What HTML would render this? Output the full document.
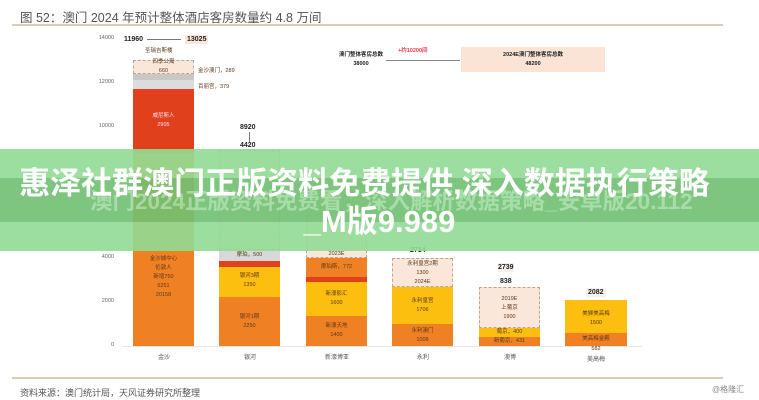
<!DOCTYPE html>
<html><head><meta charset="utf-8"><style>
*{margin:0;padding:0;box-sizing:border-box}
body{width:759px;height:400px;background:#fff;position:relative;overflow:hidden;font-family:"Liberation Sans","Noto Sans CJK SC",sans-serif;color:#444}
.a{position:absolute}
.t{position:absolute;font-size:5.5px;text-align:center;color:#5a3a1a;line-height:9px}
.yl{position:absolute;left:88px;width:26px;text-align:right;font-size:5.5px;color:#666}
.b{position:absolute}
.d{position:absolute;border:1px dashed #b9a89a;background:#fbe6da}
.cat{position:absolute;top:352px;font-size:6px;color:#555;text-align:center;width:62px}
.bold{font-weight:bold;font-size:7px;color:#222}
</style></head><body>
<div class="a" style="left:20px;top:7px;font-size:12.5px;color:#555">图 52：澳门 2024 年预计整体酒店客房数量约 4.8 万间</div>
<div class="a" style="left:12px;top:24px;width:711px;height:1.5px;background:#dccdb6"></div>

<div class="yl" style="top:35px">14000</div>
<div class="yl" style="top:79px">12000</div>
<div class="yl" style="top:123px">10000</div>
<div class="yl" style="top:254px">4000</div>
<div class="yl" style="top:298px">2000</div>
<div class="yl" style="top:342px">0</div>
<div class="a" style="left:122px;top:346px;width:520px;height:1px;background:#e6e6e6"></div>

<div class="t bold" style="left:124px;top:35px">11960</div>
<div class="a" style="left:147px;top:39px;width:34px;height:1px;background:#777"></div>
<div class="t bold" style="left:185px;top:35px;background:#fbe6da;padding:0 2px">13025</div>
<div class="t" style="left:145px;top:47px">圣瑞吉斯楼</div>
<div class="d" style="left:133px;top:60px;width:61px;height:14px"></div>
<div class="t" style="left:133px;top:58px;width:61px">四季公寓<br>660</div>
<div class="b" style="left:133px;top:74px;width:61px;height:6px;background:#c8c8c8"></div>
<div class="b" style="left:133px;top:80px;width:61px;height:9px;background:#dcdcdc"></div>
<div class="t" style="left:198px;top:67px;text-align:left">金沙澳门，289</div>
<div class="t" style="left:198px;top:83px;text-align:left">百丽宫，379</div>
<div class="b" style="left:133px;top:89px;width:61px;height:64px;background:#e0401c"></div>
<div class="t" style="left:133px;top:112px;width:61px;color:#fde">威尼斯人<br>2905</div>
<div class="b" style="left:133px;top:153px;width:61px;height:193px;background:#f08024"></div>
<div class="t" style="left:133px;top:255px;width:61px">金沙城中心<br>伦敦人<br>新增750<br>6251<br>20158</div>
<div class="cat" style="left:133px">金沙</div>

<div class="t bold" style="left:240px;top:123px">8920</div>
<div class="a" style="left:249px;top:132px;width:1px;height:10px;background:#777"></div>
<div class="t bold" style="left:240px;top:141px">4420</div>
<div class="d" style="left:219px;top:150px;width:61px;height:100px"></div>
<div class="b" style="left:219px;top:250px;width:61px;height:11px;background:#d8d8d8"></div>
<div class="t" style="left:219px;top:251px;width:61px">摩珀，500</div>
<div class="b" style="left:219px;top:261px;width:61px;height:6px;background:#e0401c"></div>
<div class="b" style="left:219px;top:267px;width:61px;height:30px;background:#fdbf0f"></div>
<div class="t" style="left:219px;top:272px;width:61px">银河3期<br>1350</div>
<div class="b" style="left:219px;top:297px;width:61px;height:49px;background:#f08024"></div>
<div class="t" style="left:219px;top:313px;width:61px">银河1期<br>2250</div>
<div class="cat" style="left:219px">银河</div>

<div class="d" style="left:306px;top:170px;width:61px;height:88px"></div>
<div class="t" style="left:306px;top:250px;width:61px">2023E</div>
<div class="b" style="left:306px;top:258px;width:61px;height:19px;background:#f08024"></div>
<div class="t" style="left:306px;top:263px;width:61px">摩珀斯，772</div>
<div class="b" style="left:306px;top:277px;width:61px;height:5px;background:#e0401c"></div>
<div class="b" style="left:306px;top:282px;width:61px;height:34px;background:#fdbf0f"></div>
<div class="t" style="left:306px;top:290px;width:61px">新濠影汇<br>1600</div>
<div class="b" style="left:306px;top:316px;width:61px;height:30px;background:#f08024"></div>
<div class="t" style="left:306px;top:322px;width:61px">新濠天地<br>1400</div>
<div class="cat" style="left:306px">新濠博亚</div>

<div class="t bold" style="left:410px;top:246px">2714</div>
<div class="d" style="left:392px;top:258px;width:61px;height:29px"></div>
<div class="t" style="left:392px;top:260px;width:61px">永利皇宫2期<br>1300<br>2024E</div>
<div class="b" style="left:392px;top:287px;width:61px;height:37px;background:#fdbf0f"></div>
<div class="t" style="left:392px;top:297px;width:61px">永利皇宫<br>1706</div>
<div class="b" style="left:392px;top:324px;width:61px;height:22px;background:#f08024"></div>
<div class="t" style="left:392px;top:327px;width:61px">永利澳门<br>1008</div>
<div class="cat" style="left:392px">永利</div>

<div class="t bold" style="left:498px;top:263px;background:#f4f0ec">2739</div>
<div class="t bold" style="left:500px;top:277px">838</div>
<div class="d" style="left:479px;top:287px;width:61px;height:41px"></div>
<div class="t" style="left:479px;top:295px;width:61px">2019E<br>上葡京<br>1900</div>
<div class="b" style="left:479px;top:328px;width:61px;height:9px;background:#fdbf0f"></div>
<div class="t" style="left:479px;top:328px;width:61px">葡京，400</div>
<div class="b" style="left:479px;top:337px;width:61px;height:9px;background:#f08024"></div>
<div class="t" style="left:479px;top:337px;width:61px">新葡京，431</div>
<div class="cat" style="left:479px">澳博</div>

<div class="t bold" style="left:586px;top:288px;background:#f4f0ec;padding:0 2px">2082</div>
<div class="b" style="left:565px;top:300px;width:62px;height:33px;background:#fdbf0f"></div>
<div class="t" style="left:565px;top:310px;width:62px">美狮美高梅<br>1500</div>
<div class="b" style="left:565px;top:333px;width:62px;height:13px;background:#f08024"></div>
<div class="t" style="left:565px;top:335px;width:62px">美高梅金殿</div>
<div class="t" style="left:565px;top:345px;width:62px">582</div>
<div class="cat" style="left:565px;top:354px">美高梅</div>

<div class="t bold" style="left:330px;top:51px;width:62px;font-size:5.5px">澳门整体客房总数<br>38000</div>
<div class="a" style="left:386px;top:60px;width:74px;height:1px;background:#888"></div>
<div class="t" style="left:398px;top:47px;color:#e04050;font-weight:bold">+约10200间</div>
<div class="a" style="left:461px;top:47px;width:144px;height:25px;background:#fbe4d6"></div>
<div class="t bold" style="left:461px;top:51px;width:144px;font-size:5.5px">2024E澳门整体客房总数<br>48200</div>

<div class="a" style="left:12px;top:377px;width:711px;height:1.5px;background:#dccdb6"></div>
<div class="a" style="left:20px;top:386px;font-size:9px;color:#555">资料来源：澳门统计局，天风证券研究所整理</div>
<div class="a" style="left:712px;top:384px;font-size:8px;color:#888">@格隆汇</div>

<div class="a" style="left:0;top:149px;width:759px;height:29px;background:rgba(145,218,150,0.9)"></div>
<div class="a" style="left:0;top:178px;width:759px;height:44px;background:rgba(112,192,114,0.9)"></div>
<div class="a" style="left:0;top:222px;width:759px;height:29px;background:rgba(145,218,150,0.9)"></div>
<div class="a" style="left:90px;top:188px;width:620px;font-size:22.5px;line-height:28px;font-weight:bold;color:rgba(200,240,200,0.55);white-space:nowrap">澳门2024正版资料免费看，深入解析数据策略_安卓版20.112</div>
<div class="a" style="left:-15px;top:164px;width:759px;text-align:center;font-size:31px;line-height:40px;font-weight:bold;color:#fff;white-space:nowrap">惠泽社群澳门正版资料免费提供,深入数据执行策略</div>
<div class="a" style="left:0;top:202px;width:759px;text-align:center;font-size:31px;line-height:40px;font-weight:bold;color:#fff;white-space:nowrap">_M版9.989</div>
</body></html>
